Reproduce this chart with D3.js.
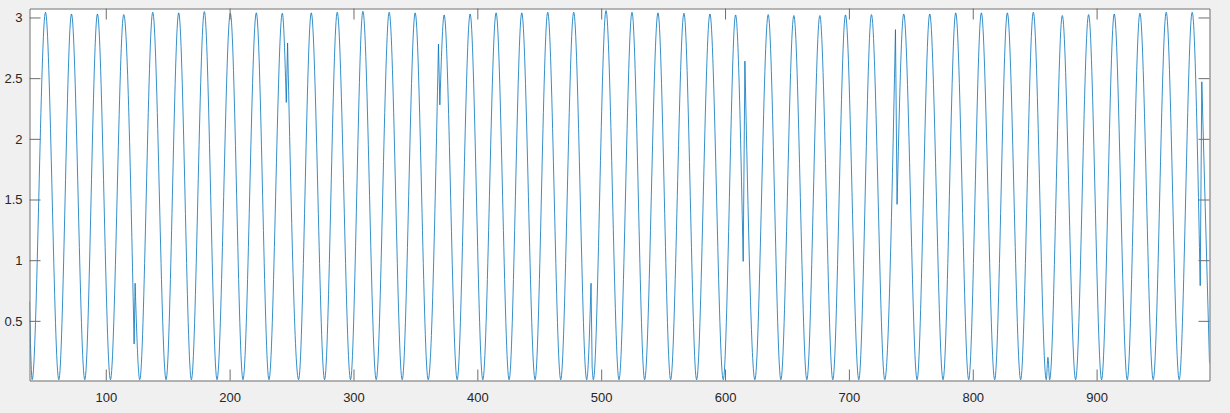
<!DOCTYPE html>
<html>
<head>
<meta charset="utf-8">
<script src="https://cdn.jsdelivr.net/npm/d3@7"></script>
<style>
html, body { margin: 0; padding: 0; background: #f0f0f0; }
svg { display: block; }
</style>
</head>
<body>
<svg id="chart" width="1230" height="413"></svg>
<script>
// Signal key points (sample index, value): peaks, troughs and glitch samples
const sampleX = [
  38.42, 40.58, 51.33, 62.09, 72.31, 83.06, 93.28, 103.77, 114.52, 122.89,
  123.69, 127.43, 137.92, 148.68, 158.89, 169.11, 179.60, 189.82, 200.57, 210.79,
  221.55, 231.77, 242.52, 245.75, 246.80, 255.70, 265.92, 276.67, 286.89, 297.64,
  307.60, 318.35, 328.84, 339.33, 349.81, 360.30, 368.61, 369.74, 373.21, 383.70,
  394.18, 404.41, 415.16, 425.65, 435.87, 446.62, 456.84, 467.33, 477.82, 488.30,
  491.80, 492.70, 493.68, 503.90, 514.38, 524.87, 535.09, 545.85, 556.07, 566.82,
  577.04, 587.79, 598.55, 608.50, 614.66, 616.03, 624.10, 634.85, 645.07, 655.56,
  666.05, 676.53, 687.02, 697.24, 707.99, 718.22, 728.97, 737.60, 738.89, 744.30,
  755.05, 765.27, 776.02, 786.24, 796.73, 806.95, 817.71, 827.93, 838.68, 848.90,
  859.39, 860.70, 862.08, 872.30, 883.05, 893.54, 904.03, 914.25, 924.74, 934.95,
  945.71, 956.20, 966.68, 977.17, 983.65, 984.94, 991.15
];
const sampleY = [
  0.66, 0.015, 3.043, 0.015, 3.029, 0.015, 3.029, 0.015, 3.024, 0.31,
  0.81, 0.015, 3.043, 0.015, 3.038, 0.015, 3.049, 0.015, 3.035, 0.015,
  3.038, 0.015, 3.035, 2.30, 2.79, 0.015, 3.038, 0.015, 3.043, 0.015,
  3.051, 0.015, 3.043, 0.015, 3.038, 0.015, 2.78, 2.28, 3.021, 0.015,
  3.029, 0.015, 3.038, 0.015, 3.038, 0.015, 3.043, 0.015, 3.043, 0.015,
  0.81, 0.12, 0.015, 3.057, 0.015, 3.043, 0.015, 3.038, 0.015, 3.035,
  0.015, 3.029, 0.015, 3.021, 0.99, 2.64, 0.015, 3.024, 0.015, 3.016,
  0.015, 3.016, 0.015, 3.021, 0.015, 3.024, 0.015, 2.90, 1.46, 3.029,
  0.015, 3.029, 0.015, 3.038, 0.015, 3.038, 0.015, 3.038, 0.015, 3.043,
  0.015, 0.20, 0.015, 3.016, 0.015, 3.024, 0.015, 3.029, 0.015, 3.035,
  0.015, 3.043, 0.015, 3.043, 0.79, 2.47, 0.15
];
// samples after which the signal jumps (discontinuity)
const jumpAfterX = [122.89, 245.75, 368.61, 491.80, 614.66, 737.60, 983.65];

const xTickValues = [100, 200, 300, 400, 500, 600, 700, 800, 900];
const xTickLabels = ["100", "200", "300", "400", "500", "600", "700", "800", "900"];
const yTickValues = [0.5, 1, 1.5, 2, 2.5, 3];
const yTickLabels = ["0.5", "1", "1.5", "2", "2.5", "3"];
const yLimits = [0.0085, 3.074];

const frame = { left: 29.5, top: 8.5, right: 1209.5, bottom: 380.5 };
const axisColor = "#6e6e6e";
const textColor = "#262626";
const lineColor = "#0072BD";

const svg = d3.select("#chart");

const x = d3.scaleLinear().domain(d3.extent(sampleX)).range([frame.left, frame.right]);
const y = d3.scaleLinear().domain(yLimits).range([frame.bottom, frame.top]);

// white plot area
svg.append("rect")
  .attr("x", frame.left).attr("y", frame.top)
  .attr("width", frame.right - frame.left).attr("height", frame.bottom - frame.top)
  .attr("fill", "#ffffff");

svg.append("clipPath").attr("id", "clip")
  .append("rect")
  .attr("x", frame.left).attr("y", frame.top - 1)
  .attr("width", frame.right - frame.left).attr("height", frame.bottom - frame.top + 2);

// split into continuous segments
const pts = sampleX.map((v, i) => [v, sampleY[i]]);
const segments = [];
let cur = [];
pts.forEach(p => {
  cur.push(p);
  if (jumpAfterX.includes(p[0])) { segments.push(cur); cur = []; }
});
if (cur.length) segments.push(cur);

const lineGen = d3.line()
  .x(d => x(d[0]))
  .y(d => y(d[1]))
  .curve(d3.curveMonotoneX);

const pathD = segments.map((s, i) => {
  const d = lineGen(s);
  return i === 0 ? d : "L" + d.slice(1);
}).join("");

svg.append("path")
  .attr("clip-path", "url(#clip)")
  .attr("d", pathD)
  .attr("fill", "none")
  .attr("stroke", lineColor)
  .attr("stroke-width", 0.8)
  .attr("stroke-linejoin", "round");

const tick = 11;
const fontFamily = "'Liberation Sans', Arial, Helvetica, sans-serif";

function styleAxis(g) {
  g.select(".domain").attr("stroke", axisColor).attr("stroke-width", 1);
  g.selectAll(".tick line").attr("stroke", axisColor).attr("stroke-width", 1);
  g.selectAll(".tick text").attr("fill", textColor)
    .style("font-family", fontFamily).style("font-size", "13px");
}

const gBottom = svg.append("g")
  .attr("transform", `translate(0,${frame.bottom})`)
  .call(d3.axisBottom(x).tickValues(xTickValues)
    .tickFormat((d, i) => xTickLabels[i])
    .tickSizeInner(-tick).tickSizeOuter(0).tickPadding(12));
styleAxis(gBottom);

const gTop = svg.append("g")
  .attr("transform", `translate(0,${frame.top})`)
  .call(d3.axisTop(x).tickValues(xTickValues).tickFormat("")
    .tickSizeInner(-tick).tickSizeOuter(0));
styleAxis(gTop);

const gLeft = svg.append("g")
  .attr("transform", `translate(${frame.left},0)`)
  .call(d3.axisLeft(y).tickValues(yTickValues)
    .tickFormat((d, i) => yTickLabels[i])
    .tickSizeInner(-tick).tickSizeOuter(0).tickPadding(7));
styleAxis(gLeft);

const gRight = svg.append("g")
  .attr("transform", `translate(${frame.right},0)`)
  .call(d3.axisRight(y).tickValues(yTickValues).tickFormat("")
    .tickSizeInner(-tick).tickSizeOuter(0));
styleAxis(gRight);
</script>
</body>
</html>
